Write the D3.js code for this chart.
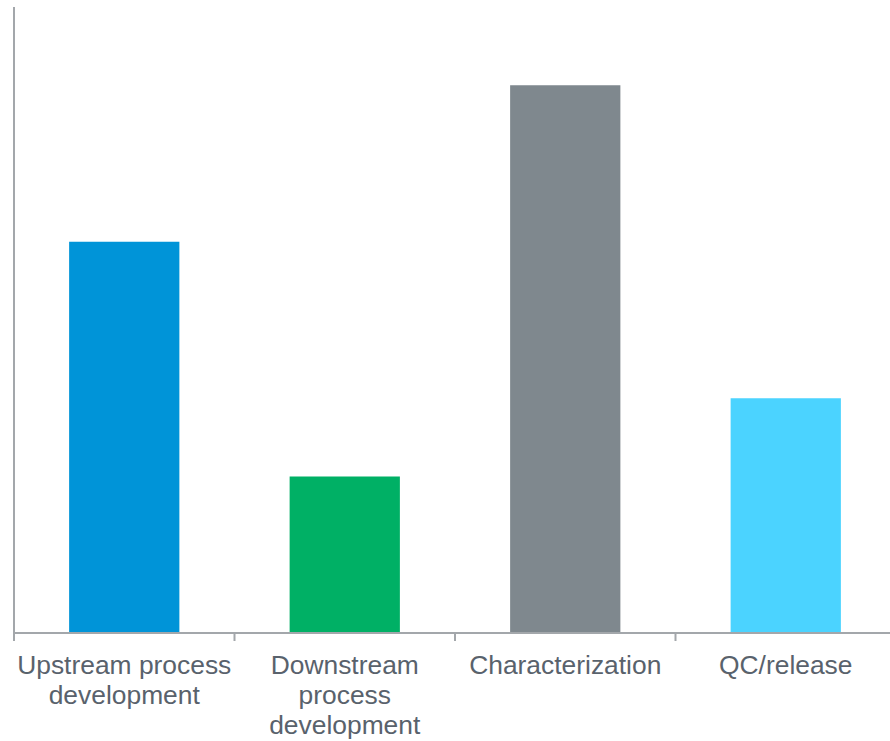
<!DOCTYPE html>
<html>
<head>
<meta charset="utf-8">
<script src="https://cdn.jsdelivr.net/npm/d3@7"></script>
<style>
  html, body { margin: 0; padding: 0; background: #fff; overflow: hidden; }
  svg { display: block; }
  .label { font-family: "Liberation Sans", Arial, sans-serif; font-size: 26.4px; fill: #59626c; }
</style>
</head>
<body>
<svg id="chart" width="890" height="741"></svg>
<script>
const categories = [
  ["Upstream process", "development"],
  ["Downstream", "process", "development"],
  ["Characterization"],
  ["QC/release"],
];
const values = [5, 2, 7, 3];
const colors = ["#0094d8", "#00b065", "#7f888e", "#4bd3ff"];

const svg = d3.select("#chart");
const plotLeft = 14, plotRight = 896, plotTop = 7, plotBottom = 633;

const x = d3.scaleBand().domain(d3.range(values.length)).range([plotLeft, plotRight]).paddingInner(0.5).paddingOuter(0.25);
// outer band edges for the tick marks
const edge = d3.scaleLinear().domain([0, values.length]).range([plotLeft, plotRight]);
const y = d3.scaleLinear().domain([0, 8]).range([plotBottom, plotTop]);

svg.append("g")
  .selectAll("rect")
  .data(values)
  .join("rect")
  .attr("x", (d, i) => x(i))
  .attr("width", x.bandwidth())
  .attr("y", (d) => y(d))
  .attr("height", (d) => y(0) - y(d))
  .attr("fill", (d, i) => colors[i]);

const axisColor = "#a3a7ab";
svg.append("line")
  .attr("x1", plotLeft).attr("x2", plotLeft).attr("y1", y(8)).attr("y2", y(0))
  .attr("stroke", axisColor).attr("stroke-width", 2);
svg.append("line")
  .attr("x1", plotLeft).attr("x2", plotRight).attr("y1", y(0)).attr("y2", y(0))
  .attr("stroke", axisColor).attr("stroke-width", 2);
svg.append("g")
  .selectAll("line")
  .data(d3.range(values.length))
  .join("line")
  .attr("x1", (i) => edge(i)).attr("x2", (i) => edge(i))
  .attr("y1", y(0)).attr("y2", y(0) + 8)
  .attr("stroke", axisColor).attr("stroke-width", 2);

const label = svg.append("g")
  .selectAll("text")
  .data(categories)
  .join("text")
  .attr("class", "label")
  .attr("text-anchor", "middle")
  .attr("x", (d, i) => x(i) + x.bandwidth() / 2)
  .attr("y", 673.5);
label.selectAll("tspan")
  .data((d) => d)
  .join("tspan")
  .attr("x", function () { return this.parentNode.getAttribute("x"); })
  .attr("dy", (d, j) => (j === 0 ? 0 : 30))
  .text((d) => d);
</script>
</body>
</html>
